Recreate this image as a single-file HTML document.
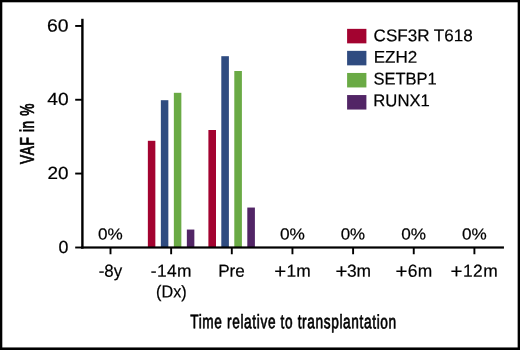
<!DOCTYPE html>
<html lang="en">
<head>
<meta charset="utf-8">
<title>VAF in % – Time relative to transplantation</title>
<style>
  html, body { margin: 0; padding: 0; background: #fff; }
  body { width: 520px; height: 350px; overflow: hidden; }
  svg { display: block; }
  text { font-family: "Liberation Sans", Arial, Helvetica, sans-serif; fill: #000; }
  .t { stroke: #000; stroke-width: 0.2px; }
  .cond { font-size: 19.6px; stroke: #000; stroke-width: 0.6px; letter-spacing: 0.92px; }
</style>
</head>
<body>
<svg width="520" height="350" viewBox="0 0 520 350">
  <rect x="0" y="0" width="520" height="350" fill="#fff"/>
  <!-- outer frame -->
  <rect x="0" y="0" width="520" height="2.3" fill="#000"/>
  <rect x="0" y="0" width="2.3" height="350" fill="#000"/>
  <rect x="517.65" y="0" width="2.35" height="350" fill="#000"/>
  <rect x="0" y="347.45" width="520" height="2.55" fill="#000"/>

  <!-- bars -->
  <g id="bars">
    <rect x="147.85" y="140.8" width="7.5" height="107" fill="#a30330"/>
    <rect x="160.85" y="100.2" width="7.5" height="147.4" fill="#2f4b80"/>
    <rect x="173.85" y="92.8" width="7.5" height="154.6" fill="#6aaa45"/>
    <rect x="186.85" y="229.55" width="7.5" height="17.9" fill="#522566"/>

    <rect x="208.4" y="130.0" width="7.6" height="117.4" fill="#a30330"/>
    <rect x="221.3" y="56.2" width="7.6" height="191.2" fill="#2f4b80"/>
    <rect x="234.3" y="71.0" width="7.6" height="176.4" fill="#6aaa45"/>
    <rect x="247.3" y="207.55" width="7.6" height="39.9" fill="#522566"/>
  </g>

  <!-- axes -->
  <g fill="#000">
    <rect x="81.2" y="18.8" width="2.4" height="229.8" />
    <rect x="81.2" y="246.4" width="422.75" height="2.2" />
    <rect x="75.2" y="246.55" width="7" height="1.9"/>
    <!-- y ticks -->
    <rect x="75.2" y="25.0" width="7" height="1.9"/>
    <rect x="75.2" y="98.8" width="7" height="1.9"/>
    <rect x="75.2" y="172.6" width="7" height="1.9"/>
    <!-- x ticks -->
    <rect x="109.55" y="247" width="1.9" height="7.25"/>
    <rect x="170.20" y="247" width="1.9" height="7.25"/>
    <rect x="230.85" y="247" width="1.9" height="7.25"/>
    <rect x="291.50" y="247" width="1.9" height="7.25"/>
    <rect x="352.15" y="247" width="1.9" height="7.25"/>
    <rect x="412.80" y="247" width="1.9" height="7.25"/>
    <rect x="473.45" y="247" width="1.9" height="7.25"/>
  </g>

  <!-- legend -->
  <g>
    <rect x="347.1" y="28.85" width="19.3" height="14.5" fill="#a30330"/>
    <rect x="347.1" y="50.85" width="19.3" height="14.5" fill="#2f4b80"/>
    <rect x="347.1" y="72.95" width="19.3" height="14.5" fill="#6aaa45"/>
    <rect x="347.1" y="95.05" width="19.3" height="14.5" fill="#522566"/>
  </g>
  <g class="t">
    <text transform="translate(47.05 31.45) scale(1.1001 1) rotate(0.06)" font-size="17.6">60</text>
    <text transform="translate(47.25 105.05) scale(1.0907 1) rotate(0.06)" font-size="17.6">40</text>
    <text transform="translate(47.51 178.9) scale(1.0719 1) rotate(0.06)" font-size="17.6">20</text>
    <text transform="translate(58.54 253.0) scale(1.0119 1) rotate(0.06)" font-size="17.6">0</text>
    <text transform="translate(98.75 276.8) scale(0.9693 1) rotate(0.06)" font-size="17.4">-8y</text>
    <text transform="translate(150.73 276.8) scale(1.0000 1) rotate(0.06)" font-size="17.4" letter-spacing="0.408">-14m</text>
    <text transform="translate(156.07 297.6) scale(0.9304 1) rotate(0.06)" font-size="17.4">(Dx)</text>
    <text transform="translate(218.15 276.8) scale(0.9821 1) rotate(0.06)" font-size="17.4">Pre</text>
    <text transform="translate(274.30 276.8) scale(1.0000 1) rotate(0.06)" font-size="17.4" letter-spacing="0.213"><tspan font-size="20.4" dy="1.25">+</tspan><tspan dy="-1.25">1m</tspan></text>
    <text transform="translate(335.47 276.8) scale(1.0000 1) rotate(0.06)" font-size="17.4" letter-spacing="-0.312"><tspan font-size="20.4" dy="1.25">+</tspan><tspan dy="-1.25">3m</tspan></text>
    <text transform="translate(395.47 276.8) scale(1.0000 1) rotate(0.06)" font-size="17.4" letter-spacing="0.300"><tspan font-size="20.4" dy="1.25">+</tspan><tspan dy="-1.25">6m</tspan></text>
    <text transform="translate(450.62 276.8) scale(1.0000 1) rotate(0.06)" font-size="17.4" letter-spacing="0.433"><tspan font-size="20.4" dy="1.25">+</tspan><tspan dy="-1.25">12m</tspan></text>
    <text transform="translate(97.99 239.55) scale(1.0701 1) rotate(0.06)" font-size="16.0">0%</text>
    <text transform="translate(279.98 239.55) scale(1.0803 1) rotate(0.06)" font-size="16.0">0%</text>
    <text transform="translate(340.67 239.55) scale(1.0577 1) rotate(0.06)" font-size="16.0">0%</text>
    <text transform="translate(401.28 239.55) scale(1.0725 1) rotate(0.06)" font-size="16.0">0%</text>
    <text transform="translate(461.99 239.55) scale(1.0701 1) rotate(0.06)" font-size="16.0">0%</text>
    <text transform="translate(373.57 41.2) scale(1.0028 1) rotate(0.06)" font-size="17.0">CSF3R T618</text>
    <text transform="translate(373.74 62.75) scale(1.0042 1) rotate(0.06)" font-size="17.0">EZH2</text>
    <text transform="translate(373.42 84.55) scale(0.9727 1) rotate(0.06)" font-size="17.0">SETBP1</text>
    <text transform="translate(373.32 106.25) scale(0.9820 1) rotate(0.06)" font-size="17.0">RUNX1</text>
  </g>

  <!-- axis titles -->
  <text class="cond" vector-effect="non-scaling-stroke" transform="translate(190.2 328.2) scale(0.697 1) rotate(0.04)">Time relative to transplantation</text>
  <text class="cond" vector-effect="non-scaling-stroke" transform="translate(33.85 164.1) rotate(-90.06) scale(0.70 1)" style="stroke-width:0.75px">VAF in %</text>
</svg>
</body>
</html>
